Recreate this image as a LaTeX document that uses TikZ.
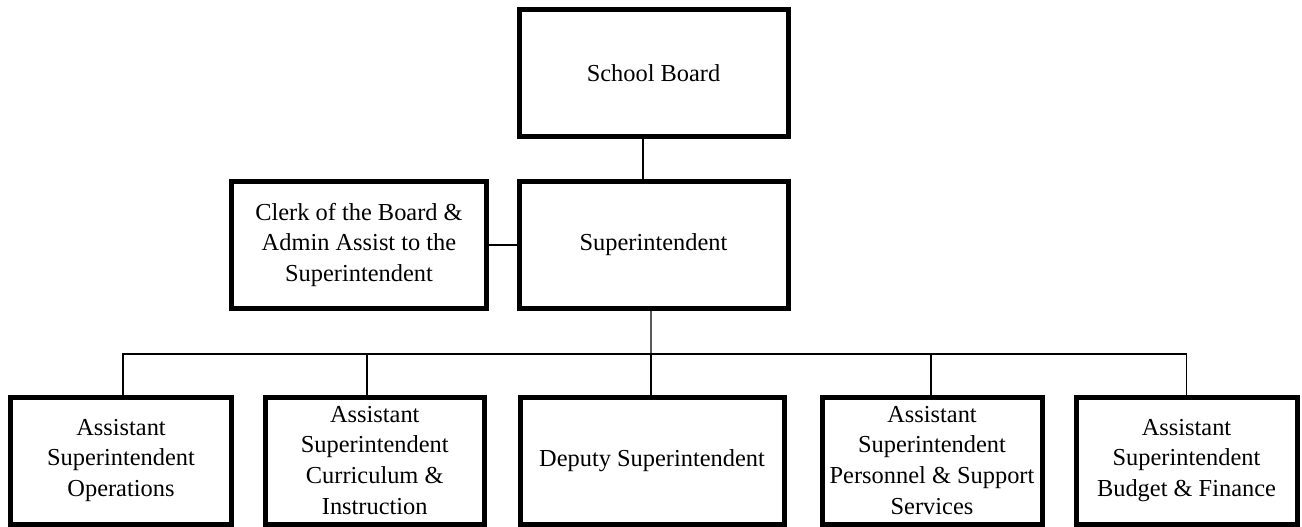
\documentclass[tikz,border=0pt]{standalone}
\usepackage{fontspec}
\setmainfont{Liberation Serif}
\usetikzlibrary{positioning}

\tikzset{
  orgbox/.style={draw, line width=3.75pt, inner sep=0pt, align=center,
    font=\fontsize{18.3}{23.2}\selectfont},
  orgline/.style={line width=0.9pt}
}

\begin{document}
\begin{tikzpicture}[x=0.75pt,y=0.75pt,yscale=-1,xscale=1]
\useasboundingbox (0,0) rectangle (1302,527);

%Shape: Rectangle top
\node [orgbox, minimum width=201.75pt, minimum height=94.9pt] (board) at (653.5,72.75) {School Board};
%Shape: Rectangle middle
\node [orgbox, minimum width=201.75pt, minimum height=95.25pt] (sup) at (653.5,245) {Superintendent};
\node [orgbox, minimum width=191.25pt, minimum height=95.25pt] (clerk) at (359,245) {Clerk of the Board \&\\Admin Assist to the\\Superintendent};
%Shape: Rectangle bottom row
\node [orgbox, minimum width=165.75pt, minimum height=95.25pt] (ops) at (121,460.5) {Assistant\\Superintendent\\Operations};
\node [orgbox, minimum width=163.9pt, minimum height=95.25pt] (cur) at (374.75,460.5) {Assistant\\Superintendent\\Curriculum \&\\Instruction};
\node [orgbox, minimum width=198pt, minimum height=95.25pt] (dep) at (652,460.5) {Deputy Superintendent};
\node [orgbox, minimum width=165pt, minimum height=95.25pt] (per) at (932,460.5) {Assistant\\Superintendent\\Personnel \& Support\\Services};
\node [orgbox, minimum width=165.75pt, minimum height=95.25pt] (bud) at (1186.5,460.5) {Assistant\\Superintendent\\Budget \& Finance};

%Straight Lines
\draw [orgline] ([xshift=-7.9pt]board.south) -- ([xshift=-7.9pt]sup.north);
\draw [orgline] (clerk.east) -- (sup.west);
%Straight Lines bus
\coordinate (bus) at (651,354);
\draw [orgline] ([xshift=-1.9pt]sup.south) -- (bus);
\draw [orgline] ([xshift=1.5pt]ops.north) |- (bus) -| (bud.north);
\draw [orgline] ([xshift=-5.8pt]cur.north) -- ([xshift=-5.8pt]cur.north |- bus);
\draw [orgline] ([xshift=-0.75pt]dep.north) -- ([xshift=-0.75pt]dep.north |- bus);
\draw [orgline] ([xshift=-0.75pt]per.north) -- ([xshift=-0.75pt]per.north |- bus);

\end{tikzpicture}
\end{document}
